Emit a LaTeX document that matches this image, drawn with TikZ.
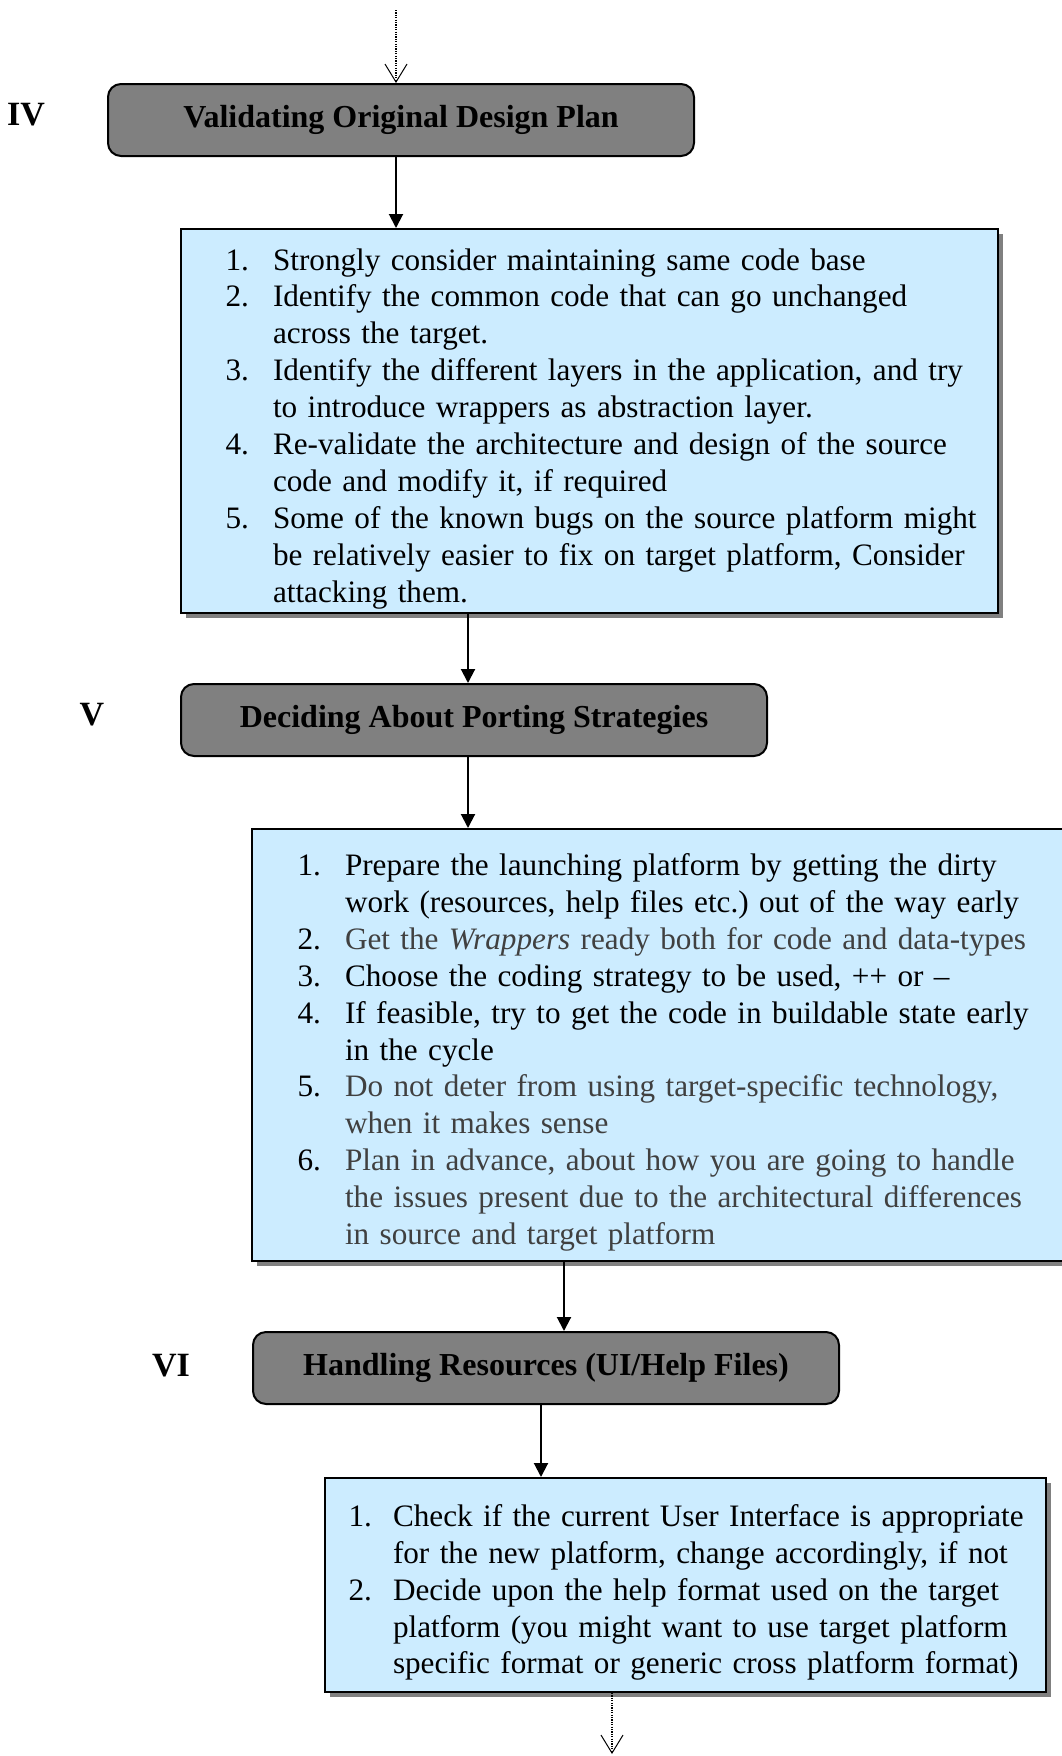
\documentclass[tikz,border=0pt]{standalone}
\usepackage{fontspec}
\setmainfont{Liberation Serif}
\usepackage{enumitem}
\usetikzlibrary{shadows,arrows.meta}
\definecolor{listblue}{HTML}{CCECFF}
\definecolor{headgray}{HTML}{808080}
\frenchspacing

\begin{document}
\begin{tikzpicture}[
          x=0.5pt, y=-0.5pt,
          header/.style={
            draw=black,
            line width=1pt,
            fill=headgray,
            rounded corners=6.5pt,
            anchor=north west,
            minimum width=293pt,
            minimum height=36pt,
            font=\fontsize{16}{18}\selectfont\bfseries,
          },
          stage/.style={
            font=\fontsize{17}{20}\selectfont\bfseries,
          },
          steps/.style={
            draw=black,
            line width=1pt,
            fill=listblue,
            anchor=north west,
            inner xsep=0pt,
            inner ysep=0pt,
            align=left,
            drop shadow={shadow xshift=2.25pt, shadow yshift=-2.25pt,
              fill=headgray, opacity=1},
            font=\fontsize{15.6}{18.45}\selectfont,
          },
          flow/.style={
            -{Triangle[length=7pt,width=7pt]},
            line width=1pt,
          },
          dotflow/.style={
            -{Straight Barb[length=9pt,width=11pt,line width=0.5pt]},
            line width=0.6pt,
            dash pattern=on 0.6pt off 0.6pt,
          },
        ]
          \useasboundingbox (0,0) rectangle (1061,1756);

          \node[stage](r4) at (26,115) {IV};
          \node[stage](r5) at (92,715) {V};
          \node[stage](r6) at (171,1366) {VI};

          \node[header](s4) at (107,83) {Validating Original Design Plan};
          \node[header](s5) at (180,683) {Deciding About Porting Strategies};
          \node[header](s6) at (252,1331) {Handling Resources (UI/Help Files)};

          \node[steps, text width=408.5pt, minimum height=192pt](l4) at (180,228) {%
            \begin{enumerate}[nosep, leftmargin=46pt, labelsep=12pt]
              \item Strongly consider maintaining same code base
              \item Identify the common code that can go unchanged\newline
                across the target.
              \item Identify the different layers in the application, and try\newline
                to introduce wrappers as abstraction layer.
              \item Re-validate the architecture and design of the source\newline
                code and modify it, if required
              \item Some of the known bugs on the source platform might\newline
                be relatively easier to fix on target platform, Consider\newline
                attacking them.
            \end{enumerate}};

          \node[steps, text width=415pt, minimum height=216pt](l5) at (251,828) {%
            \begin{enumerate}[nosep, leftmargin=46.5pt, labelsep=12pt]
              \item Prepare the launching platform by getting the dirty\newline
                work (resources, help files etc.) out of the way early
              \item {\color{black!75}Get the \emph{Wrappers} ready both for code and data-types}
              \item Choose the coding strategy to be used, ++ or --
              \item If feasible, try to get the code in buildable state early\newline
                in the cycle
              \item {\color{black!75}Do not deter from using target-specific technology,\newline
                when it makes sense}
              \item {\color{black!75}Plan in advance, about how you are going to handle\newline
                the issues present due to the architectural differences\newline
                in source and target platform}
            \end{enumerate}};

          \node[steps, text width=360.5pt, minimum height=107pt](l6) at (324,1477) {%
            \begin{enumerate}[nosep, leftmargin=34pt, labelsep=10.5pt]
              \item Check if the current User Interface is appropriate\newline
                for the new platform, change accordingly, if not
              \item Decide upon the help format used on the target\newline
                platform (you might want to use target platform\newline
                specific format or generic cross platform format)
            \end{enumerate}};

          \coordinate (in) at (396,10);
          \coordinate (out) at (612,1754);

          \draw[dotflow] (in) -- (in |- s4.north);
          \draw[flow] (in |- s4.south) -- (in |- l4.north);
          \draw[flow] ([xshift=-3pt]s5.north |- l4.south) -- ([xshift=-3pt]s5.north);
          \draw[flow] ([xshift=-3pt]s5.south) -- ([xshift=-3pt]s5.south |- l5.north);
          \draw[flow] ([xshift=9pt]s6.north |- l5.south) -- ([xshift=9pt]s6.north);
          \draw[flow] ([xshift=-2.5pt]s6.south) -- ([xshift=-2.5pt]s6.south |- l6.north);
          \draw[dotflow] (out |- l6.south) -- (out);
        \end{tikzpicture}
\end{document}
